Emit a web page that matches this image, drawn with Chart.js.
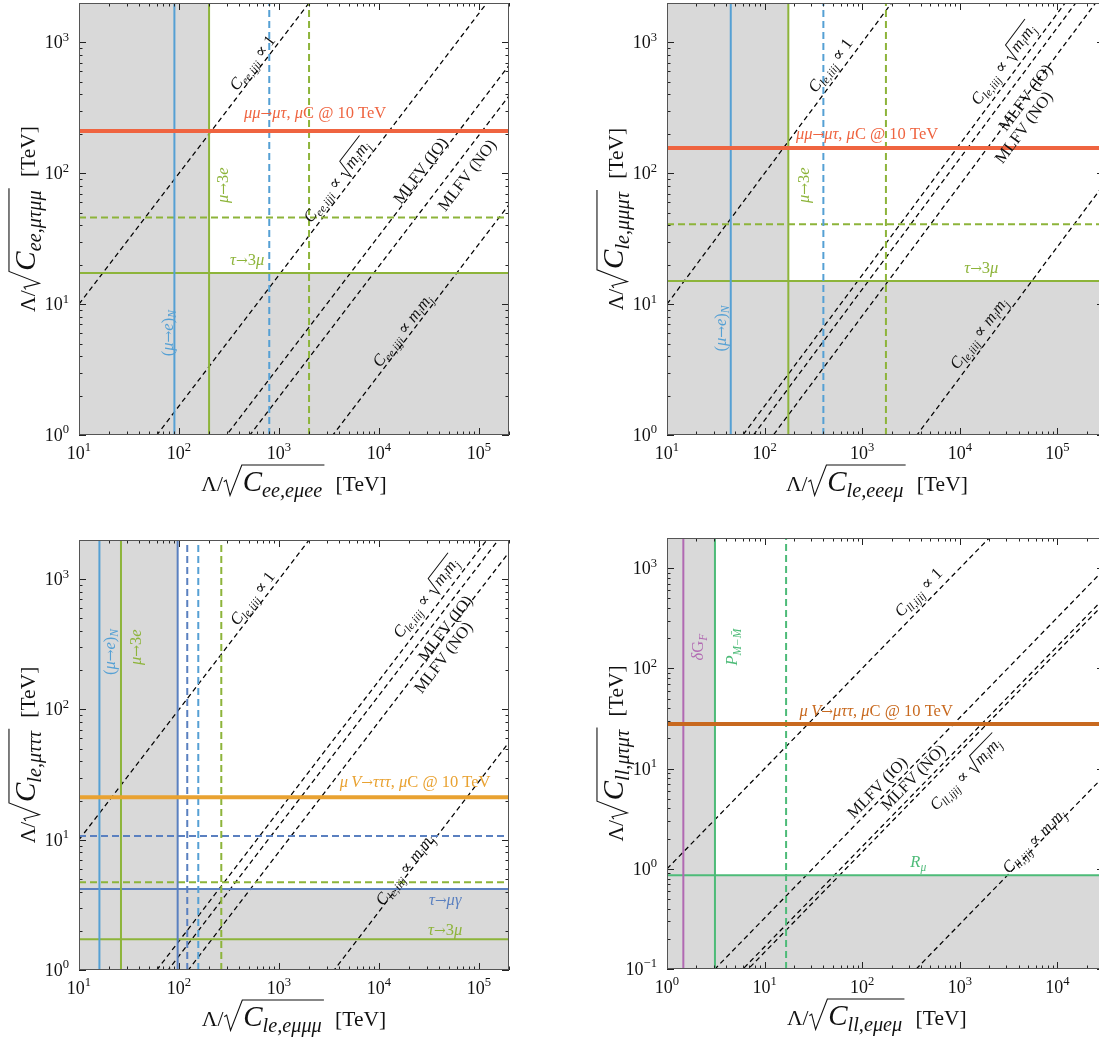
<!DOCTYPE html>
<html>
<head>
<meta charset="utf-8">
<title>LFV four-lepton operator bounds</title>
<script src="https://cdn.jsdelivr.net/npm/chart.js@4.4.1/dist/chart.umd.min.js"></script>
<style>
  html, body { margin: 0; padding: 0; background: #fff; overflow: hidden; }
  body { width: 1099px; height: 1044px; position: relative; }
  canvas { position: absolute; }
</style>
</head>
<body>
<canvas id="panelA" width="540" height="520" style="left:0;top:0"></canvas>
<canvas id="panelB" width="560" height="520" style="left:560px;top:0"></canvas>
<canvas id="panelC" width="540" height="524" style="left:0;top:520px"></canvas>
<canvas id="panelD" width="560" height="524" style="left:560px;top:520px"></canvas>
<script>
// Bounds on Lambda/sqrt(C) in TeV. Each pair is [current, projected (dashed)].
// Benchmarks are the ratio Lambda_x / Lambda_y fixed by each flavour ansatz.

// (a) C_ee : e mu e e  vs  mu tau mu mu
var aMuToE = [90, 800];
var aMuTo3e = [200, 2000];
var aTauTo3mu = [17.3, 46];
var aCollider = [210];
var aBench = [1, 60, 300, 513, 3470];   // ~1, ~sqrt(mi mj), MLFV IO, MLFV NO, ~mi mj
var aXDecades = [1, 2, 3, 4, 5];
var aYDecades = [0, 1, 2, 3];

// (b) C_le : e e e mu  vs  mu mu mu tau
var bMuToE = [45, 400];
var bMuTo3e = [175, 1750];
var bTauTo3mu = [15, 40.8];
var bCollider = [156];
var bBench = [1, 60, 77, 123, 3640];
var bXDecades = [1, 2, 3, 4, 5];
var bYDecades = [0, 1, 2, 3];

// (c) C_le : e mu mu mu  vs  mu tau tau tau
var cMuToE = [16, 156];
var cMuToEGamma = [97, 121];
var cMuTo3e = [26.3, 265];
var cTauToMuGamma = [4.19, 10.7];
var cTauTo3mu = [1.72, 4.71];
var cCollider = [21.2];
var cBench = [1, 60, 78, 124, 3570];
var cXDecades = [1, 2, 3, 4, 5];
var cYDecades = [0, 1, 2, 3];

// (d) C_ll : e mu e mu  vs  mu tau mu tau
var dDeltaGF = [1.47];
var dMuonium = [3.1, 16.6];
var dRmu = [0.86];
var dCollider = [27.8];
var dBench = [1, 31, 60, 68, 3570];     // ~1, MLFV IO, MLFV NO, ~sqrt(mi mj), ~mi mj
var dXDecades = [0, 1, 2, 3, 4];
var dYDecades = [-1, 0, 1, 2, 3];

var FONT = '"Liberation Serif", "DejaVu Serif", serif';
var ARROW_FONT = '"DejaVu Serif", serif';
var GREY = '#d9d9d9';
var BLUE = '#55a0d4', NAVY = '#5a80c0', GREEN = '#8db43a', RED = '#ef6440',
    AMBER = '#e9a231', RUST = '#c8691f', MINT = '#4dbb78', PLUM = '#b169b2';
var DASH = [7, 4];

// --- rich text pieces ---
function R(t) { return { t: t }; }
function I(t) { return { t: t, it: true }; }
function Sub(t) { return { t: t, it: true, sub: true }; }
function Sup(t) { return { t: t, sup: true }; }
function Arrow() { return { t: '\u2192', f: ARROW_FONT, k: 0.85 }; }
function Root() { return { root: Array.prototype.slice.call(arguments) }; }
function big(p) { return Object.assign({}, p, { k: 1.35 }); }

function layout(ctx, pieces, size) {
    var items = [], x = 0, kmax = 1;
    pieces.forEach(function (p) {
        if (p.root) {
            var inner = layout(ctx, p.root, size);
            var rw = 0.68 * size * inner.kmax;
            items.push({ rad: true, x: x, rw: rw, w: inner.w, k: inner.kmax });
            inner.items.forEach(function (it) {
                items.push(Object.assign({}, it, { x: it.x + x + rw }));
            });
            x += rw + inner.w + 0.12 * size;
            kmax = Math.max(kmax, inner.kmax);
            return;
        }
        var k = p.k || 1;
        var s = size * k * (p.sub || p.sup ? 0.7 : 1);
        var font = (p.it ? 'italic ' : '') + s.toFixed(1) + 'px ' + (p.f || FONT);
        ctx.font = font;
        var w = ctx.measureText(p.t).width;
        var dy = p.sub ? 0.22 * size * k : (p.sup ? -0.42 * size : 0);
        items.push({ t: p.t, font: font, x: x, dy: dy });
        x += w;
        if (!p.f) kmax = Math.max(kmax, k);
    });
    return { items: items, w: x, kmax: kmax };
}

function radical(ctx, x, y, size, rw, w, k) {
    var top = y - 0.9 * size * k;
    ctx.lineWidth = Math.max(1, size * 0.05);
    ctx.beginPath();
    ctx.moveTo(x + 0.04 * size, y - 0.32 * size * k);
    ctx.lineTo(x + 0.15 * size, y - 0.38 * size * k);
    ctx.lineTo(x + 0.33 * size, y + 0.2 * size);
    ctx.lineTo(x + rw - 0.04 * size, top);
    ctx.lineTo(x + rw + w + 0.1 * size, top);
    ctx.stroke();
}

// draws pieces with their vertical centre at (cx, cy)
function drawRich(ctx, pieces, size, cx, cy, angle, color, align) {
    var lay = layout(ctx, pieces, size);
    ctx.save();
    ctx.translate(cx, cy);
    ctx.rotate(-angle);
    var x0 = align === 'right' ? -lay.w : (align === 'left' ? 0 : -lay.w / 2);
    var base = size * 0.33;
    ctx.fillStyle = color;
    ctx.strokeStyle = color;
    ctx.textBaseline = 'alphabetic';
    lay.items.forEach(function (it) {
        if (it.rad) {
            radical(ctx, x0 + it.x, base, size, it.rw, it.w, it.k);
            return;
        }
        ctx.font = it.font;
        ctx.fillText(it.t, x0 + it.x, base + it.dy);
    });
    ctx.restore();
}

function tickLabel(d) {
    return [R('10'), Sup(d < 0 ? '\u2212' + (-d) : String(d))];
}

function axisTitle(op) {
    return [R('\u039b/'), Root(big(I('C')), big(Sub(op))), R('  [TeV]')];
}

// --- datasets ---
function hLine(y, xr, color, width, dash) {
    return { data: [{ x: xr[0], y: y }, { x: xr[1], y: y }], borderColor: color,
             borderWidth: width, borderDash: dash || [], order: 1 };
}
function vLine(x, yr, color, width, dash) {
    return { data: [{ x: x, y: yr[0] }, { x: x, y: yr[1] }], borderColor: color,
             borderWidth: width, borderDash: dash || [], order: 1 };
}
function bench(r, xr) {
    return { data: [{ x: xr[0], y: xr[0] / r }, { x: xr[1], y: xr[1] / r }], borderColor: '#000',
             borderWidth: 1.25, borderDash: [5, 3.5], order: 5 };
}
// grey union of the two excluded strips: x below xCut or y below yCut
function shade(xCut, yCut, xr, yr) {
    return { data: [{ x: xr[0], y: yr[1] }, { x: xCut, y: yr[1] }, { x: xCut, y: yCut }, { x: xr[1], y: yCut }],
             borderWidth: 0, borderColor: GREY, backgroundColor: GREY, fill: 'start', order: 9 };
}

function logTicks(min, max) {
    var out = [];
    for (var d = Math.floor(Math.log10(min)); d <= Math.ceil(Math.log10(max)); d++) {
        for (var m = 1; m <= 9; m++) {
            var v = m * Math.pow(10, d);
            if (v >= min * 0.999 && v <= max * 1.001) out.push({ v: v, major: m === 1 });
        }
    }
    return out;
}

function seg(ctx, x1, y1, x2, y2) {
    ctx.beginPath(); ctx.moveTo(x1, y1); ctx.lineTo(x2, y2); ctx.stroke();
}

function decor(spec) {
    return {
        id: 'decor',
        afterDatasetsDraw: function (chart) {
            var ctx = chart.ctx, a = chart.chartArea;
            var xs = chart.scales.x, ys = chart.scales.y;
            var diag = Math.atan2(ys.getPixelForValue(1) - ys.getPixelForValue(10),
                                  xs.getPixelForValue(10) - xs.getPixelForValue(1));

            // in-plot labels
            spec.labels.forEach(function (l) {
                var ang = l.rot === 'diag' ? diag : (l.rot === 'up' ? Math.PI / 2 : 0);
                drawRich(ctx, l.p, 16.5, xs.getPixelForValue(l.x), ys.getPixelForValue(l.y),
                         ang, l.c || '#111', 'center');
            });

            ctx.save();
            ctx.strokeStyle = '#222';
            ctx.lineWidth = 1;
            logTicks(xs.min, xs.max).forEach(function (t) {
                var p = Math.round(xs.getPixelForValue(t.v)) + 0.5;
                var len = t.major ? 7 : 3.5;
                seg(ctx, p, a.bottom, p, a.bottom - len);
                seg(ctx, p, a.top, p, a.top + len);
            });
            logTicks(ys.min, ys.max).forEach(function (t) {
                var p = Math.round(ys.getPixelForValue(t.v)) + 0.5;
                var len = t.major ? 7 : 3.5;
                seg(ctx, a.left, p, a.left + len, p);
                seg(ctx, a.right, p, a.right - len, p);
            });
            ctx.strokeStyle = '#555';
            ctx.strokeRect(a.left + 0.5, a.top + 0.5, a.right - a.left - 1, a.bottom - a.top - 1);
            ctx.restore();

            spec.xDecades.forEach(function (d) {
                drawRich(ctx, tickLabel(d), 18, xs.getPixelForValue(Math.pow(10, d)), a.bottom + 18,
                         0, '#111', 'center');
            });
            spec.yDecades.forEach(function (d) {
                drawRich(ctx, tickLabel(d), 18, a.left - 10, ys.getPixelForValue(Math.pow(10, d)),
                         0, '#111', 'right');
            });

            drawRich(ctx, spec.xTitle, 21.5, xs.getPixelForValue(spec.xTitleAt), a.bottom + 49,
                     0, '#111', 'center');
            drawRich(ctx, spec.yTitle, 21.5, a.left - 51, (a.top + a.bottom) / 2,
                     Math.PI / 2, '#111', 'center');
        }
    };
}

function makePanel(id, xr, yr, pad, datasets, spec) {
    datasets.forEach(function (ds) {
        ds.pointRadius = 0;
        ds.tension = 0;
        if (ds.fill === undefined) ds.fill = false;
    });
    new Chart(document.getElementById(id), {
        type: 'line',
        data: { datasets: datasets },
        options: {
            responsive: false,
            animation: false,
            events: [],
            layout: { padding: pad },
            plugins: { legend: { display: false }, tooltip: { enabled: false } },
            scales: {
                x: { type: 'logarithmic', min: xr[0], max: xr[1], display: false },
                y: { type: 'logarithmic', min: yr[0], max: yr[1], display: false }
            }
        },
        plugins: [decor(spec)]
    });
}

function benchLabels(ops, pos, order) {
    // order: which text goes with which position
    var sqrtMM = Root(I('m'), Sub('i'), I('m'), Sub('j'));
    var texts = {
        one: [I('C'), Sub(ops), R(' \u221d 1')],
        root: [I('C'), Sub(ops), R(' \u221d '), sqrtMM],
        io: [R('MLFV (IO)')],
        no: [R('MLFV (NO)')],
        mm: [I('C'), Sub(ops), R(' \u221d '), I('m'), Sub('i'), I('m'), Sub('j')]
    };
    return order.map(function (key, i) {
        return { p: texts[key], x: pos[i][0], y: pos[i][1], rot: 'diag' };
    });
}

var muColl = [I('\u03bc\u03bc'), Arrow(), I('\u03bc\u03c4'), R(', '), I('\u03bc'), R('C @ 10 TeV')];
var mu3e = [I('\u03bc'), Arrow(), R('3'), I('e')];
var tau3mu = [I('\u03c4'), Arrow(), R('3'), I('\u03bc')];
var muE = [R('('), I('\u03bc'), Arrow(), I('e'), R(')'), Sub('N')];

// (a)
(function () {
    var xr = [10, 2e5], yr = [1, 2000];
    var ds = [hLine(aCollider[0], xr, RED, 4)];
    ds.push(vLine(aMuToE[0], yr, BLUE, 2), vLine(aMuToE[1], yr, BLUE, 2, DASH));
    ds.push(vLine(aMuTo3e[0], yr, GREEN, 2), vLine(aMuTo3e[1], yr, GREEN, 2, DASH));
    ds.push(hLine(aTauTo3mu[0], xr, GREEN, 2), hLine(aTauTo3mu[1], xr, GREEN, 2, DASH));
    aBench.forEach(function (r) { ds.push(bench(r, xr)); });
    ds.push(shade(aMuTo3e[0], aTauTo3mu[0], xr, yr));
    var labels = benchLabels('ee,ijji',
        [[540, 700], [3800, 88], [2.6e4, 105], [7.6e4, 97], [1.7e4, 6.3]],
        ['one', 'root', 'io', 'no', 'mm']);
    labels.push({ p: muColl, x: 2300, y: 290, c: RED },
                { p: mu3e, x: 270, y: 81, c: GREEN, rot: 'up' },
                { p: tau3mu, x: 480, y: 22, c: GREEN },
                { p: muE, x: 76, y: 6, c: BLUE, rot: 'up' });
    makePanel('panelA', xr, yr, { left: 79, top: 3, right: 31, bottom: 85 }, ds, {
        labels: labels, xDecades: aXDecades, yDecades: aYDecades,
        xTitle: axisTitle('ee,e\u03bcee'), yTitle: axisTitle('ee,\u03bc\u03c4\u03bc\u03bc'), xTitleAt: 1414
    });
})();

// (b)
(function () {
    var xr = [10, 3e5], yr = [1, 2000];
    var ds = [hLine(bCollider[0], xr, RED, 4)];
    ds.push(vLine(bMuToE[0], yr, BLUE, 2), vLine(bMuToE[1], yr, BLUE, 2, DASH));
    ds.push(vLine(bMuTo3e[0], yr, GREEN, 2), vLine(bMuTo3e[1], yr, GREEN, 2, DASH));
    ds.push(hLine(bTauTo3mu[0], xr, GREEN, 2), hLine(bTauTo3mu[1], xr, GREEN, 2, DASH));
    bBench.forEach(function (r) { ds.push(bench(r, xr)); });
    ds.push(shade(bMuTo3e[0], bTauTo3mu[0], xr, yr));
    var labels = benchLabels('le,iiij',
        [[470, 670], [2.8e4, 690], [4.7e4, 380], [4.5e4, 225], [1.55e4, 6]],
        ['one', 'root', 'io', 'no', 'mm']);
    labels.push({ p: muColl, x: 1120, y: 200, c: RED },
                { p: mu3e, x: 250, y: 81, c: GREEN, rot: 'up' },
                { p: tau3mu, x: 1.66e4, y: 19, c: GREEN },
                { p: muE, x: 35, y: 6.5, c: BLUE, rot: 'up' });
    makePanel('panelB', xr, yr, { left: 107, top: 3, right: 16, bottom: 85 }, ds, {
        labels: labels, xDecades: bXDecades, yDecades: bYDecades,
        xTitle: axisTitle('le,eee\u03bc'), yTitle: axisTitle('le,\u03bc\u03bc\u03bc\u03c4'), xTitleAt: 1414
    });
})();

// (c)
(function () {
    var xr = [10, 2e5], yr = [1, 2000];
    var ds = [hLine(cCollider[0], xr, AMBER, 4)];
    ds.push(vLine(cMuToE[0], yr, BLUE, 2), vLine(cMuToE[1], yr, BLUE, 2, DASH));
    ds.push(vLine(cMuToEGamma[0], yr, NAVY, 2), vLine(cMuToEGamma[1], yr, NAVY, 2, DASH));
    ds.push(vLine(cMuTo3e[0], yr, GREEN, 2), vLine(cMuTo3e[1], yr, GREEN, 2, DASH));
    ds.push(hLine(cTauToMuGamma[0], xr, NAVY, 2), hLine(cTauToMuGamma[1], xr, NAVY, 2, DASH));
    ds.push(hLine(cTauTo3mu[0], xr, GREEN, 2), hLine(cTauTo3mu[1], xr, GREEN, 2, DASH));
    cBench.forEach(function (r) { ds.push(bench(r, xr)); });
    ds.push(shade(cMuToEGamma[0], cTauToMuGamma[0], xr, yr));
    var labels = benchLabels('le,iiij',
        [[540, 716], [2.95e4, 730], [4.6e4, 420], [4.4e4, 252], [1.8e4, 5.9]],
        ['one', 'root', 'io', 'no', 'mm']);
    labels.push({ p: [I('\u03bc\u2009V'), Arrow(), I('\u03c4\u03c4\u03c4'), R(', '), I('\u03bc'), R('C @ 10 TeV')],
                  x: 2.3e4, y: 28, c: AMBER },
                { p: muE, x: 20, y: 276, c: BLUE, rot: 'up' },
                { p: mu3e, x: 37, y: 300, c: GREEN, rot: 'up' },
                { p: [I('\u03c4'), Arrow(), I('\u03bc\u03b3')], x: 4.6e4, y: 3.45, c: NAVY },
                { p: tau3mu, x: 4.6e4, y: 2.06, c: GREEN });
    makePanel('panelC', xr, yr, { left: 79, top: 20, right: 31, bottom: 74 }, ds, {
        labels: labels, xDecades: cXDecades, yDecades: cYDecades,
        xTitle: axisTitle('le,e\u03bc\u03bc\u03bc'), yTitle: axisTitle('le,\u03bc\u03c4\u03c4\u03c4'), xTitleAt: 1414
    });
})();

// (d)
(function () {
    var xr = [1, 3e4], yr = [0.1, 2000];
    var ds = [hLine(dCollider[0], xr, RUST, 4)];
    ds.push(vLine(dDeltaGF[0], yr, PLUM, 2));
    ds.push(vLine(dMuonium[0], yr, MINT, 2), vLine(dMuonium[1], yr, MINT, 2, DASH));
    ds.push(hLine(dRmu[0], xr, MINT, 2));
    dBench.forEach(function (r) { ds.push(bench(r, xr)); });
    ds.push(shade(dMuonium[0], dRmu[0], xr, yr));
    var labels = benchLabels('ll,ijij',
        [[375, 577], [142, 6.5], [333, 8.2], [1150, 9], [5700, 1.9]],
        ['one', 'io', 'no', 'root', 'mm']);
    labels.push({ p: [I('\u03bc\u2009V'), Arrow(), I('\u03bc\u03c4\u03c4'), R(', '), I('\u03bc'), R('C @ 10 TeV')],
                  x: 139, y: 38, c: RUST },
                { p: [I('\u03b4'), R('G'), Sub('F')], x: 2.08, y: 163, c: PLUM, rot: 'up' },
                { p: [I('P'), Sub('M\u2212M\u0304')], x: 4.6, y: 163, c: MINT, rot: 'up' },
                { p: [I('R'), Sub('\u03bc')], x: 375, y: 1.17, c: MINT });
    makePanel('panelD', xr, yr, { left: 107, top: 18, right: 16, bottom: 75 }, ds, {
        labels: labels, xDecades: dXDecades, yDecades: dYDecades,
        xTitle: axisTitle('ll,e\u03bce\u03bc'), yTitle: axisTitle('ll,\u03bc\u03c4\u03bc\u03c4'), xTitleAt: 141
    });
})();
</script>
</body>
</html>
